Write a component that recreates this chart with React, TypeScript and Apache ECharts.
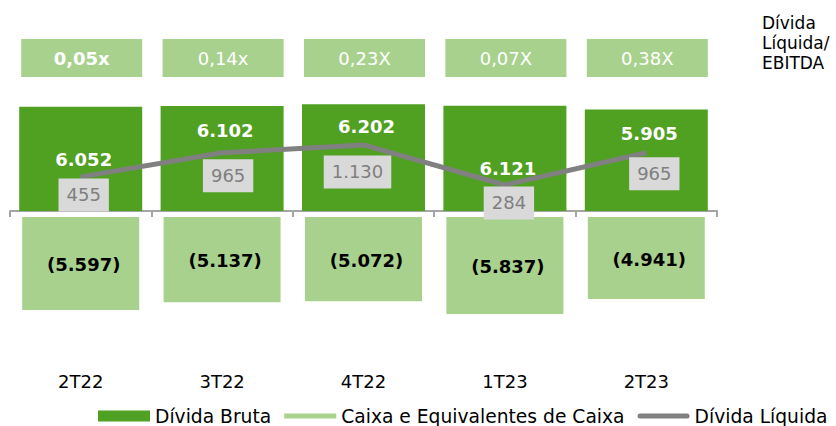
import React, { useEffect, useRef } from "react";
import * as echarts from "echarts";

const categories = ["2T22", "3T22", "4T22", "1T23", "2T23"];
const dividaBruta = [6052, 6102, 6202, 6121, 5905];
const caixa = [-5597, -5137, -5072, -5837, -4941];
const dividaLiquida = [455, 965, 1130, 284, 965];
const ratioLabels = ["0,05x", "0,14x", "0,23X", "0,07X", "0,38X"];

// styling only (label placement), not data
const brutaLabelDistance = [44, 16, 13, 54, 15];
const liquidaLabelOffset = [
  [3, 1],
  [6, 6],
  [-6, 10],
  [4, 1],
  [8, 4],
];
const ratioBold = [true, false, false, false, false];

const FONT = "DejaVu Sans";
const GREEN = "#50A021";
const LIGHT = "#A9D18E";
const GRAY = "#808080";

const fmt = (v: number) =>
  String(Math.abs(Math.round(v))).replace(/\B(?=(\d{3})+(?!\d))/g, ".");

export default function App() {
  const ref = useRef<HTMLDivElement>(null);
  useEffect(() => {
    if (!ref.current) return;
    const chart = echarts.init(ref.current, undefined, { renderer: "svg" });
    const option: any = {
      animation: false,
      backgroundColor: "#fff",
      textStyle: { fontFamily: FONT },
      grid: [
        { left: 10, width: 707, top: 100, height: 111, outerBoundsMode: "none" },
        { left: 10, width: 707, top: 217, height: 100, outerBoundsMode: "none" },
        { left: 10, width: 707, top: 39, height: 38, outerBoundsMode: "none" },
      ],
      xAxis: [
        {
          type: "category",
          gridIndex: 0,
          data: categories,
          position: "bottom",
          offset: 3,
          axisLine: { show: true, lineStyle: { color: "#A5A5A5", width: 2 } },
          axisTick: { show: true, length: 6, lineStyle: { color: "#A5A5A5", width: 2 } },
          axisLabel: { show: false },
          splitLine: { show: false },
        },
        {
          type: "category",
          gridIndex: 1,
          data: categories,
          position: "bottom",
          axisLine: { show: false },
          axisTick: { show: false },
          splitLine: { show: false },
          axisLabel: {
            show: true,
            margin: 55,
            fontSize: 18,
            color: "#000",
            fontFamily: FONT,
          },
        },
        {
          type: "category",
          gridIndex: 2,
          data: categories,
          show: false,
        },
      ],
      yAxis: [
        { type: "value", gridIndex: 0, min: 0, max: 6450, show: false, splitLine: { show: false } },
        { type: "value", gridIndex: 0, min: -266, max: 2080, show: false, splitLine: { show: false } },
        { type: "value", gridIndex: 1, min: -6020, max: 0, show: false, splitLine: { show: false } },
        { type: "value", gridIndex: 2, min: 0, max: 1, show: false, splitLine: { show: false } },
      ],
      legend: {
        left: 98,
        top: 406,
        padding: 0,
        itemWidth: 52,
        itemHeight: 11,
        itemGap: 13,
        textStyle: { fontSize: 18.7, color: "#000", fontFamily: FONT, lineHeight: 20 },
        data: [
          { name: "Dívida Bruta", icon: "rect" },
          { name: "Caixa e Equivalentes de Caixa", icon: "path://M0,0 H52 V5 H0 Z" },
          { name: "Dívida Líquida", icon: "path://M2.5,0 H49.5 A2.5,2.5 0 0 1 49.5,5 H2.5 A2.5,2.5 0 0 1 2.5,0 Z" },
        ],
      },
      graphic: [
        {
          type: "text",
          left: 762,
          top: 13,
          style: {
            text: "Dívida\nLíquida/\nEBITDA",
            fontSize: 17,
            lineHeight: 20,
            fontFamily: FONT,
            fill: "#000",
          },
        },
      ],
      series: [
        {
          name: "Dívida Bruta",
          type: "bar",
          xAxisIndex: 0,
          yAxisIndex: 0,
          barWidth: 123,
          itemStyle: { color: GREEN },
          data: dividaBruta.map((v, i) => ({
            value: v,
            label: { distance: brutaLabelDistance[i] },
          })),
          label: {
            show: true,
            position: "insideTop",
            offset: [3, 0],
            color: "#fff",
            fontWeight: "bold",
            fontSize: 18,
            fontFamily: FONT,
            formatter: (p: any) => fmt(p.value),
          },
          z: 2,
        },
        {
          name: "Caixa e Equivalentes de Caixa",
          type: "bar",
          xAxisIndex: 1,
          yAxisIndex: 2,
          barWidth: 117,
          itemStyle: { color: LIGHT },
          data: caixa,
          label: {
            show: true,
            position: "inside",
            offset: [3, 1],
            color: "#000",
            fontWeight: "bold",
            fontSize: 18,
            fontFamily: FONT,
            formatter: (p: any) => "(" + fmt(p.value) + ")",
          },
        },
        {
          name: "Dívida Líquida",
          type: "line",
          xAxisIndex: 0,
          yAxisIndex: 1,
          symbol: "circle",
          symbolSize: 1,
          itemStyle: { color: GRAY },
          lineStyle: { color: GRAY, width: 5 },
          z: 4,
          data: dividaLiquida.map((v, i) => ({
            value: v,
            label: { offset: liquidaLabelOffset[i] },
          })),
          label: {
            show: true,
            position: "bottom",
            distance: 0,
            color: "#7F7F7F",
            backgroundColor: "#D9D9D9",
            fontSize: 18,
            lineHeight: 23,
            padding: [5, 8, 5, 8],
            fontFamily: FONT,
            formatter: (p: any) => fmt(p.value),
          },
        },
        {
          type: "custom",
          xAxisIndex: 2,
          yAxisIndex: 3,
          silent: true,
          data: categories.map((_, i) => [i, 0]),
          renderItem: (params: any, api: any) => {
            const cs = params.coordSys;
            const i = params.dataIndex;
            const cx = api.coord([api.value(0), 0])[0];
            const w = api.size([1, 0])[0] * 0.856;
            return {
              type: "group",
              children: [
                {
                  type: "rect",
                  shape: { x: cx - w / 2 + 1, y: cs.y, width: w, height: cs.height },
                  style: { fill: LIGHT },
                },
                {
                  type: "text",
                  x: cx + 1,
                  y: cs.y + cs.height / 2,
                  style: {
                    text: ratioLabels[i],
                    fill: "#fff",
                    fontSize: 18,
                    fontFamily: FONT,
                    fontWeight: ratioBold[i] ? "bold" : "normal",
                    align: "center",
                    verticalAlign: "middle",
                  },
                },
              ],
            };
          },
        },
      ],
    };
    chart.setOption(option);
    return () => chart.dispose();
  }, []);
  return (
    <div
      ref={ref}
      style={{ position: "fixed", left: 0, top: 0, width: 836, height: 426 }}
    />
  );
}
